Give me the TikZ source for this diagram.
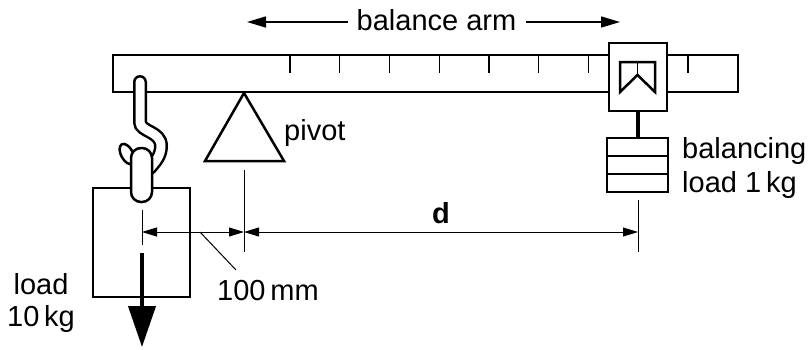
\documentclass[tikz,border=0pt]{standalone}
\usepackage{fontspec}
\setmainfont{Liberation Sans}
\usetikzlibrary{arrows.meta}

\begin{document}
\begin{tikzpicture}[x=1pt, y=-1pt,
  part/.style={draw, line width=2.5pt, fill=white},
  dim/.style={line width=1pt},
  dimarrow/.style={line width=1pt, {Triangle[length=15pt,width=9pt]}-{Triangle[length=15pt,width=9pt]}},
  label/.style={font=\fontsize{29}{34}\selectfont, inner sep=0pt}]
\useasboundingbox (0,0) rectangle (810,349);

% balance arm with scale
\draw[part] (113,55) rectangle (738,92);
\foreach \i in {0,...,8}
  \draw[line width=1.2pt] (290+49.75*\i,55) -- (290+49.75*\i,73);

% pivot
\coordinate (pivot) at (244,93);
\draw[part] (pivot) -- (284,161) -- (205,161) -- cycle;
\node (pivotlabel) at (284,140) [label, anchor=base west] {pivot};

% sliding holder and balancing load
\coordinate (rodtop) at (638,111);
\coordinate (rodbot) at (638,138);
\draw[line width=4pt] (rodtop) -- (rodbot);
\draw[part] (609,43) rectangle (667,111);
\draw[line width=2.5pt, line join=miter] (620,62) -- (655,62) -- (655,92) -- (637.5,75) -- (620,92) -- cycle;
\draw[line width=1pt] (637.5,62) -- (637.5,75);
\draw[part] (607,138) rectangle (668,192);
\draw[line width=1.2pt] (607,156) -- (668,156);
\draw[line width=1.2pt] (607,174) -- (668,174);
\node (balancelabel) at (682,158) [label, anchor=base west] {balancing};
\node (balancelabel2) at (682,192) [label, anchor=base west] {load 1\,kg};

% load with hook
\draw[part] (93,188) rectangle (190,297);
\draw[line width=14pt, line cap=round] (140,82) -- (140,122) .. controls (140,132) and (161,131) .. (161,146) .. controls (161,156) and (155,162) .. (150,168);
\draw[line width=9pt, white, line cap=round] (140,82) -- (140,122) .. controls (140,132) and (161,131) .. (161,146) .. controls (161,156) and (155,162) .. (150,168);
\draw[part, rotate around={28:(127,154)}] (127,154) ellipse (6 and 11);
\draw[part, rounded corners=10pt] (131,148) rectangle (152,202);
\node (loadlabel) at (41,294) [label, anchor=base] {load};
\node (loadlabel2) at (41,326) [label, anchor=base] {10\,kg};

% weight of the load
\coordinate (forcetop) at (142,253);
\coordinate (forcetip) at (142,347);
\draw[line width=4pt, -{Triangle[length=41pt,width=27pt]}] (forcetop) -- (forcetip);

% distances
\coordinate (c1) at (142,232);
\coordinate (c2) at (244,232);
\coordinate (c3) at (638,232);
\draw[dim] (142,210) -- (142,245);
\draw[dim] (244,170) -- (244,252);
\draw[dim] (638,200) -- (638,252);
\draw[dimarrow] (c1) -- (c2);
\draw[dimarrow] (c2) -- (c3);
\node (dlabel) at (441,223) [label, anchor=base, font=\fontsize{29}{34}\selectfont\bfseries] {d};
\node (mmlabel) at (217,300) [label, anchor=base west] {100\,mm};
\coordinate (lead) at (200,232);
\draw[dim] (lead) -- (236,270);

% balance arm label
\node (armlabel) at (436.5,30) [label, anchor=base] {balance arm};
\coordinate (armleft) at (247,22);
\coordinate (armright) at (620,22);
\draw[line width=1.5pt, -{Triangle[length=19pt,width=11pt]}] (armlabel.west |- armleft) ++(-9,0) -- (armleft);
\draw[line width=1.5pt, -{Triangle[length=19pt,width=11pt]}] (armlabel.east |- armright) ++(9,0) -- (armright);
\end{tikzpicture}
\end{document}
